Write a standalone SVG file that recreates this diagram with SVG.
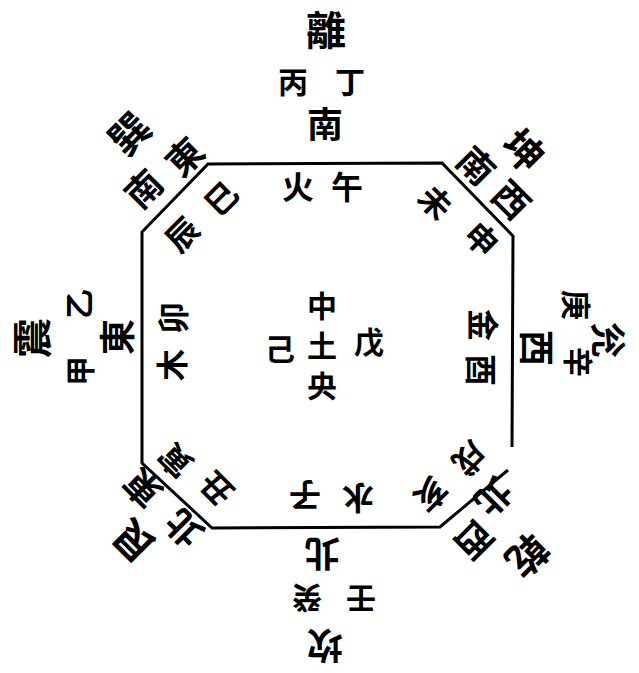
<svg xmlns="http://www.w3.org/2000/svg" width="639" height="673" viewBox="0 0 639 673">
<style>
text{font-family:"Noto Sans CJK TC","Noto Sans CJK SC",sans-serif;font-weight:700;fill:#000;text-anchor:middle;dominant-baseline:central}
.tri{font-size:40px}
.tri2{font-size:36px}
.dir{font-size:36px}
.stem{font-size:30px}
.inn{font-size:32px}
.ctr{font-size:30px}
.frame{fill:none;stroke:#000;stroke-width:3;stroke-linejoin:miter}
</style>
<rect width="639" height="673" fill="#fff"/>
<g id="frame">
<path class="frame" d="M512,447 L513,236 L442,163 L208,164 L142,232 L142,463 L212,528 L440,527 L508,470"/>
</g>
<g id="south">
<text class="tri" transform="translate(326,28)">離</text>
<text class="stem" transform="translate(293,80)">丙</text>
<text class="stem" transform="translate(350,80)">丁</text>
<text class="dir" transform="translate(325,122)">南</text>
<text class="inn" transform="translate(298,185)">火</text>
<text class="inn" transform="translate(347,185)">午</text>
</g>
<g id="southeast">
<text class="tri" transform="translate(128,132) rotate(-45)">巽</text>
<text class="dir" transform="translate(183,155) rotate(-45)">東</text>
<text class="dir" transform="translate(142,187) rotate(-45)">南</text>
<text class="inn" transform="translate(220,197) rotate(-45)">巳</text>
<text class="inn" transform="translate(181,233) rotate(-45)">辰</text>
</g>
<g id="southwest">
<text class="tri" transform="translate(525,149) rotate(45)">坤</text>
<text class="dir" transform="translate(478,164) rotate(45)">南</text>
<text class="dir" transform="translate(513,198) rotate(45)">西</text>
<text class="inn" transform="translate(437,201) rotate(45)">未</text>
<text class="inn" transform="translate(483,238) rotate(45)">申</text>
</g>
<g id="east">
<text class="tri" transform="translate(30,338) rotate(-90)">震</text>
<text class="stem" transform="translate(77,304) rotate(-90)">乙</text>
<text class="stem" transform="translate(78,371) rotate(-90)">甲</text>
<text class="dir" transform="translate(115,337) rotate(-90)">東</text>
<text class="inn" transform="translate(171,318) rotate(-90)">卯</text>
<text class="inn" transform="translate(170,365) rotate(-90)">木</text>
</g>
<g id="west">
<text class="tri2" transform="translate(610,340) rotate(90)">兊</text>
<text class="stem" transform="translate(578,305) rotate(90)">庚</text>
<text class="stem" transform="translate(580,362) rotate(90)">辛</text>
<text class="dir" transform="translate(539,348) rotate(90)">西</text>
<text class="inn" transform="translate(485,325) rotate(90)">金</text>
<text class="inn" transform="translate(483,370) rotate(90)">酉</text>
</g>
<g id="center">
<text class="ctr" transform="translate(322,304)">中</text>
<text class="ctr" transform="translate(280,347)">己</text>
<text class="ctr" transform="translate(322,344)">土</text>
<text class="ctr" transform="translate(369,340)">戊</text>
<text class="ctr" transform="translate(322,384)">央</text>
</g>
<g id="northeast">
<text class="inn" transform="translate(174,462) rotate(-135)">寅</text>
<text class="inn" transform="translate(215,490) rotate(-135)">丑</text>
<text class="dir" transform="translate(141,490) rotate(-135)">東</text>
<text class="dir" transform="translate(182,530) rotate(-135)">北</text>
<text class="tri" transform="translate(132,543) rotate(-135)">艮</text>
</g>
<g id="northwest">
<text class="inn" transform="translate(471,460) rotate(135)">戌</text>
<text class="inn" transform="translate(432,496) rotate(135)">亥</text>
<text class="dir" transform="translate(495,499) rotate(135)">北</text>
<text class="dir" transform="translate(476,542) rotate(135)">西</text>
<text class="tri" transform="translate(529,557) rotate(135)">乾</text>
</g>
<g id="north">
<text class="inn" transform="translate(305,497) rotate(180)">子</text>
<text class="inn" transform="translate(358,500) rotate(180)">水</text>
<text class="dir" transform="translate(322,556) rotate(180)">北</text>
<text class="stem" transform="translate(307,600) rotate(180)">癸</text>
<text class="stem" transform="translate(361,601) rotate(180)">壬</text>
<text class="tri2" transform="translate(325,648) rotate(180)">坎</text>
</g>
</svg>
